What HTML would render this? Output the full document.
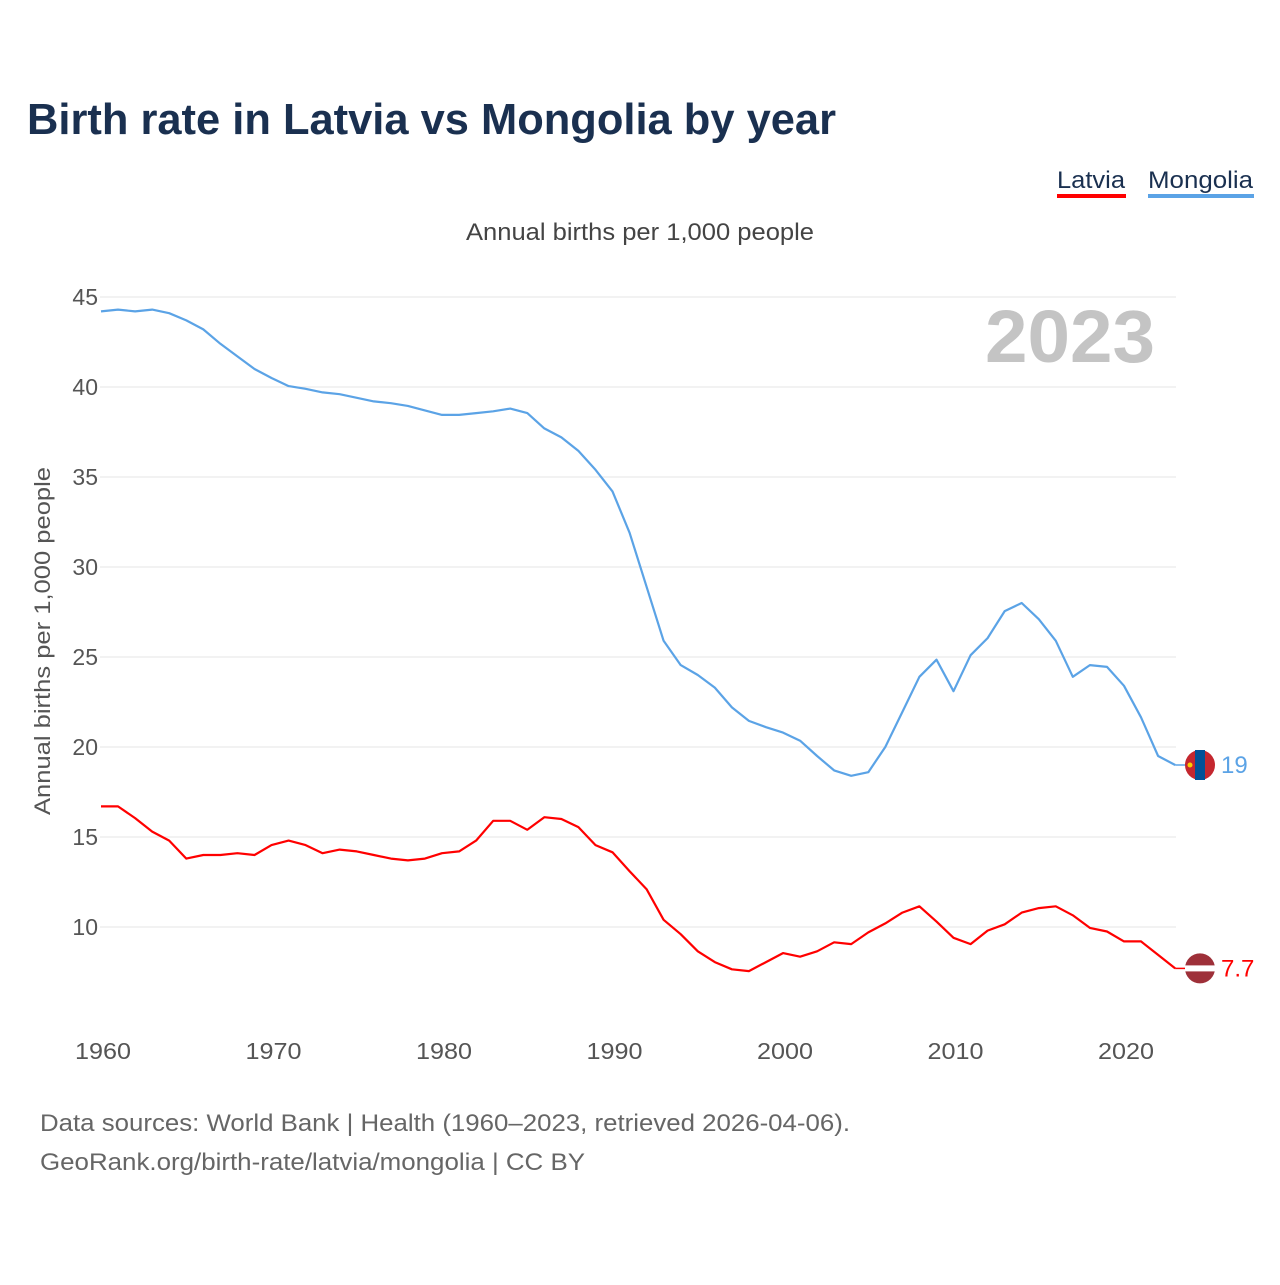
<!DOCTYPE html>
<html><head><meta charset="utf-8"><style>
body{margin:0;background:#fff;font-family:"Liberation Sans",sans-serif;}
svg text{font-family:"Liberation Sans",sans-serif;}
</style></head><body>
<svg width="1280" height="1280" viewBox="0 0 1280 1280">
<text x="27" y="134" font-size="44" font-weight="bold" fill="#1a3050" textLength="809" lengthAdjust="spacingAndGlyphs">Birth rate in Latvia vs Mongolia by year</text>
<g><text x="1057" y="188" font-size="24" fill="#1a3050" textLength="68" lengthAdjust="spacingAndGlyphs">Latvia</text><rect x="1057" y="194" width="69" height="4" fill="#ff0000"/></g>
<g><text x="1148" y="188" font-size="24" fill="#1a3050" textLength="105" lengthAdjust="spacingAndGlyphs">Mongolia</text><rect x="1148" y="194" width="106" height="4" fill="#5ba3e6"/></g>
<text x="466" y="240" font-size="24" fill="#444" textLength="348" lengthAdjust="spacingAndGlyphs">Annual births per 1,000 people</text>
<text x="985" y="362" font-size="74" font-weight="bold" fill="#c4c4c4" textLength="170" lengthAdjust="spacingAndGlyphs">2023</text>
<text transform="translate(50,815) rotate(-90)" font-size="22" fill="#555" textLength="348" lengthAdjust="spacingAndGlyphs">Annual births per 1,000 people</text>
<g id="grid"></g><g id="lines"></g><g id="ends"></g>
<text x="40" y="1131" font-size="24" fill="#666" textLength="810" lengthAdjust="spacingAndGlyphs">Data sources: World Bank | Health (1960–2023, retrieved 2026-04-06).</text>
<text x="40" y="1170" font-size="24" fill="#666" textLength="545" lengthAdjust="spacingAndGlyphs">GeoRank.org/birth-rate/latvia/mongolia | CC BY</text>
</svg>
<script>
const years=[];for(let y=1960;y<=2023;y++)years.push(y);
const yTicks=[10,15,20,25,30,35,40,45];
const xTicks=[1960,1970,1980,1990,2000,2010,2020];
const mongolia=[44.2,44.3,44.2,44.3,44.1,43.7,43.2,42.4,41.7,41.0,40.5,40.05,39.9,39.7,39.6,39.4,39.2,39.1,38.95,38.7,38.45,38.45,38.55,38.65,38.8,38.55,37.7,37.2,36.45,35.4,34.2,31.9,28.9,25.9,24.55,24.0,23.3,22.2,21.45,21.1,20.8,20.35,19.5,18.7,18.4,18.6,20.0,21.95,23.9,24.85,23.1,25.1,26.05,27.55,28.0,27.1,25.9,23.9,24.55,24.45,23.4,21.65,19.5,19.0];
const latvia=[16.7,16.7,16.05,15.3,14.8,13.8,14.0,14.0,14.1,14.0,14.55,14.8,14.55,14.1,14.3,14.2,14.0,13.8,13.7,13.8,14.1,14.2,14.8,15.9,15.9,15.4,16.1,16.0,15.55,14.55,14.15,13.1,12.1,10.4,9.6,8.65,8.05,7.65,7.55,8.05,8.55,8.35,8.65,9.15,9.05,9.7,10.2,10.8,11.15,10.3,9.4,9.05,9.8,10.15,10.8,11.05,11.15,10.65,9.95,9.75,9.2,9.2,8.45,7.7];
const endLabels=["19","7.7"];
const NS="http://www.w3.org/2000/svg";
const X=y=>101+(y-1960)*17.05, Y=v=>297+(45-v)*18;
function mk(tag,attrs,parent){const e=document.createElementNS(NS,tag);for(const k in attrs)e.setAttribute(k,attrs[k]);parent.appendChild(e);return e;}
const grid=document.getElementById('grid');
yTicks.forEach(t=>{
 const l=mk('line',{x1:100,x2:1176,y1:Y(t),y2:Y(t),stroke:'#e6e6e6','stroke-width':1},grid);
 
 
 const tx=mk('text',{x:98,y:Y(t)+8,'font-size':23,fill:'#555','text-anchor':'end'},grid);tx.textContent=t;
 
 
});
xTicks.forEach(t=>{
 const tx=mk('text',{x:X(t)+2,y:1059,'font-size':23,fill:'#555','text-anchor':'middle',textLength:56,lengthAdjust:'spacingAndGlyphs'},grid);tx.textContent=t;
 
 
});
const lines=document.getElementById('lines');
[[mongolia,'#5ba3e6','mongolia-line'],[latvia,'#ff0000','latvia-line']].forEach(([d,c,n])=>{
 const p=mk('path',{d:d.map((v,i)=>(i?'L':'M')+X(years[i]).toFixed(1)+','+Y(v).toFixed(1)).join(''),fill:'none',stroke:c,'stroke-width':2.2,'stroke-linejoin':'round'},lines);
 
 
});
const ends=document.getElementById('ends');
const last=years.length-1;
let ym=Y(mongolia[last]);
let g=mk('g',{},ends);


mk('line',{x1:X(years[last]),x2:1186,y1:ym,y2:ym,stroke:'#5ba3e6','stroke-width':1.5},g);
mk('circle',{cx:1200,cy:ym,r:15,fill:'#c4272f'},g);
mk('rect',{x:1195,y:ym-15,width:10,height:30,fill:'#015197'},g);
mk('circle',{cx:1190,cy:ym,r:2.5,fill:'#f9cf02'},g);
let t=mk('text',{x:1221,y:ym+8,'font-size':24,fill:'#5ba3e6'},ends);t.textContent=endLabels[0];


let yl=Y(latvia[last]);
g=mk('g',{},ends);


mk('line',{x1:X(years[last]),x2:1186,y1:yl,y2:yl,stroke:'#ff0000','stroke-width':1.5},g);
mk('circle',{cx:1200,cy:yl,r:15,fill:'#9e3039'},g);
mk('rect',{x:1185,y:yl-3,width:30,height:6,fill:'#fff'},g);
t=mk('text',{x:1221,y:yl+8,'font-size':24,fill:'#ff0000'},ends);t.textContent=endLabels[1];


</script>
</body></html>
